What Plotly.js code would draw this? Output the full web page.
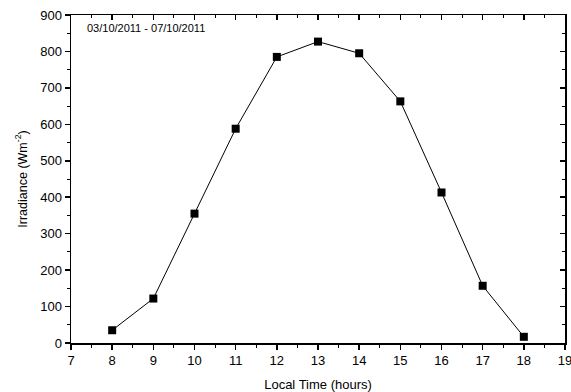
<!DOCTYPE html>
<html><head><meta charset="utf-8">
<script src="https://cdn.plot.ly/plotly-3.0.1.min.js"></script>
<style>body{margin:0;background:#fff}#c{width:571px;height:392px}</style>
</head><body><div id="c"></div>
<script>
var hours = [8, 9, 10, 11, 12, 13, 14, 15, 16, 17, 18];
var irradiance = [35, 122, 355, 588, 785, 827, 795, 663, 413, 157, 17];
var xTicks = [7, 8, 9, 10, 11, 12, 13, 14, 15, 16, 17, 18, 19];
var yTicks = [0, 100, 200, 300, 400, 500, 600, 700, 800, 900];
var dateLabel = "03/10/2011 - 07/10/2011";

var font = "Liberation Sans, Arial, sans-serif";
var data = [
  {x: hours, y: irradiance, type: 'scatter', mode: 'lines+markers',
   line: {color: '#000', width: 1},
   marker: {symbol: 'square', size: 8, color: '#000'},
   hoverinfo: 'none', showlegend: false},
  {x: [], y: [], xaxis: 'x2', yaxis: 'y2', type: 'scatter', showlegend: false}
];
var layout = {
  width: 571, height: 392,
  margin: {l: 71, r: 6, t: 15, b: 49},
  paper_bgcolor: '#fff', plot_bgcolor: '#fff',
  font: {family: font, color: '#000'},
  xaxis: {range: [7, 19], tickvals: xTicks, ticktext: xTicks.map(String),
    ticks: 'outside', ticklen: 5, tickwidth: 1.5, tickcolor: '#000',
    ticklabeloverflow: 'allow',
    minor: {dtick: 0.5, tick0: 7, ticks: 'outside', ticklen: 3, tickwidth: 1, tickcolor: '#000'},
    showline: true, linecolor: '#000', linewidth: 1.5, mirror: true,
    showgrid: false, zeroline: false, tickfont: {size: 13, family: font},
    title: {text: 'Local Time (hours)', font: {size: 13, family: font}, standoff: 13}},
  yaxis: {range: [0, 900], tickvals: yTicks, ticktext: yTicks.map(String),
    ticks: 'outside', ticklen: 5, tickwidth: 1.5, tickcolor: '#000',
    minor: {dtick: 50, tick0: 0, ticks: 'outside', ticklen: 3, tickwidth: 1, tickcolor: '#000'},
    showline: true, linecolor: '#000', linewidth: 1.5, mirror: true,
    showgrid: false, zeroline: false, tickfont: {size: 13, family: font},
    title: {text: 'Irradiance (Wm<sup>-2</sup>)', font: {size: 12.5, family: font}, standoff: 10}},
  xaxis2: {overlaying: 'x', side: 'top', range: [7, 19], tickvals: xTicks, showticklabels: false,
    ticks: 'inside', ticklen: 5, tickwidth: 1.5, tickcolor: '#000',
    minor: {dtick: 0.5, tick0: 7, ticks: 'inside', ticklen: 3, tickwidth: 1, tickcolor: '#000'},
    showgrid: false, zeroline: false, showline: false},
  yaxis2: {overlaying: 'y', side: 'right', range: [0, 900], tickvals: yTicks, showticklabels: false,
    ticks: 'inside', ticklen: 5, tickwidth: 1.5, tickcolor: '#000',
    minor: {dtick: 50, tick0: 0, ticks: 'inside', ticklen: 3, tickwidth: 1, tickcolor: '#000'},
    showgrid: false, zeroline: false, showline: false},
  annotations: [{text: dateLabel, xref: 'paper', yref: 'paper', x: 0.028, y: 0.985,
    xanchor: 'left', yanchor: 'top', showarrow: false, font: {size: 11, family: font}}]
};
Plotly.newPlot('c', data, layout, {staticPlot: true, displayModeBar: false});
</script></body></html>
